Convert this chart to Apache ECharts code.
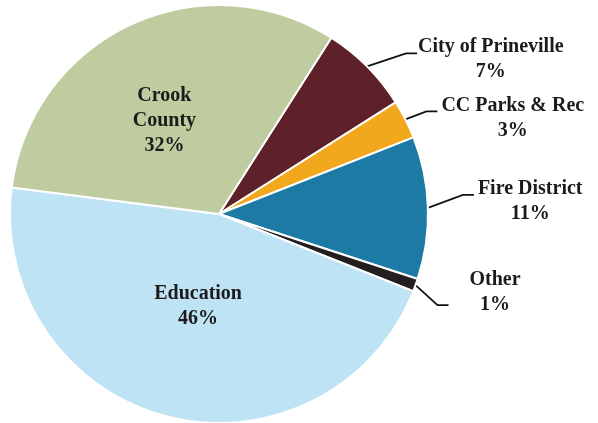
<!DOCTYPE html>
<html><head><meta charset="utf-8">
<script src="https://cdn.jsdelivr.net/npm/echarts@6/dist/echarts.min.js"></script>
<style>html,body{margin:0;padding:0;background:#fff}#c{width:598px;height:423px}</style>
</head><body><div id="c"></div>
<script>
// Data
const categories = ['City of Prineville', 'CC Parks & Rec', 'Fire District', 'Other', 'Education', 'Crook County'];
const labelNames = ['City of Prineville', 'CC Parks & Rec', 'Fire District', 'Other', 'Education', 'Crook\nCounty'];
const values = [7, 3, 11, 1, 46, 32];

// Styles
const colors = ['#5E2129', '#F2A81D', '#1D7AA4', '#231F20', '#BEE3F4', '#BFCC9F'];
const insideSet = { 'Education': true, 'Crook County': true };
const labelTune = [
  { dx: 46, dy: -7, line: { dy: -6, gap: 1 } },
  { dx: 31, dy: -1, line: { dy: -7, gap: 4 } },
  { dx: 45, dy: -6, line: { dy: -7, gap: 4 } },
  { dx: 49, dy: 7, line: { dy: 13, gap: 21 } },
  { dx: 6, dy: -12 },
  { dx: -9, dy: 4 }
];

const chart = echarts.init(document.getElementById('c'), null, { renderer: 'canvas' });
const font = { fontFamily: 'Liberation Serif', fontWeight: 'bold', fontSize: 20, lineHeight: 25, color: '#1b1b1b' };

chart.setOption({
  animation: false,
  backgroundColor: '#ffffff',
  series: [{
    type: 'pie',
    center: [219, 214],
    radius: 209,
    startAngle: 57.5,
    clockwise: true,
    avoidLabelOverlap: false,
    itemStyle: { borderColor: '#ffffff', borderWidth: 2 },
    label: {
      show: true,
      position: 'outside',
      alignTo: 'none',
      distanceToLabelLine: 5,
      formatter: function (p) {
        const nm = labelNames[p.dataIndex].split('\n').map(s => '{t|' + s + '}').join('\n');
        return nm + '\n{t|' + Math.round(p.percent) + '%}';
      },
      rich: { t: Object.assign({ align: 'center' }, font) }
    },
    labelLine: { show: true, length: 0, length2: 0, lineStyle: { color: '#111111', width: 1.8 } },
    labelLayout: function (p) {
      const t = labelTune[p.dataIndex];
      const r = p.labelRect;
      const res = { dx: t.dx, dy: t.dy };
      if (t.line && p.labelLinePoints) {
        const pts = p.labelLinePoints;
        const cy = r.y + r.height / 2 + t.dy;
        const left = r.x + t.dx;
        const ly = cy + t.line.dy;
        const ex = left - t.line.gap;
        res.labelLinePoints = [pts[0], [ex - 11, ly], [ex, ly]];
      }
      return res;
    },
    data: categories.map((c, i) => {
      const d = { name: c, value: values[i], itemStyle: { color: colors[i] } };
      if (insideSet[c]) {
        d.label = { position: 'inside' };
        d.labelLine = { show: false };
      }
      return d;
    })
  }]
});
</script>
</body></html>
